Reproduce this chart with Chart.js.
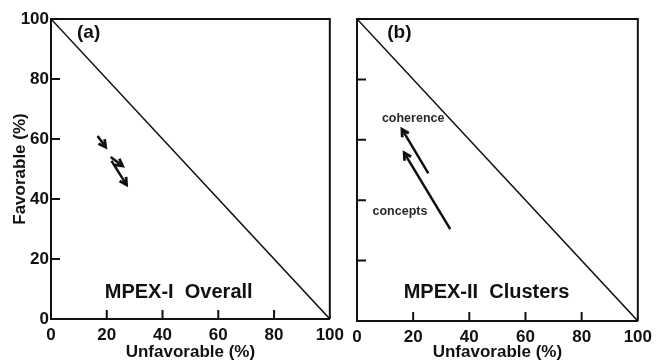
<!DOCTYPE html>
<html>
<head>
<meta charset="utf-8">
<script src="https://cdn.jsdelivr.net/npm/chart.js@4.4.1/dist/chart.umd.min.js"></script>
<style>
  html, body { margin: 0; padding: 0; background: #fff; }
  #wrap { position: relative; width: 658px; height: 362px; overflow: hidden; background: #fff; }
  canvas { position: absolute; top: 0; }
  #chartA { left: 0; }
  #chartB { left: 330px; }
</style>
</head>
<body>
<div id="wrap">
  <canvas id="chartA" width="350" height="362"></canvas>
  <canvas id="chartB" width="328" height="362"></canvas>
</div>
<script>
const axisTicks = [0, 20, 40, 60, 80, 100];
const diagonalX = [0, 100];
const diagonalY = [100, 0];

// MPEX-I overall shifts (unfavorable %, favorable %), pre -> post
const overallFromX = [16.7, 21.4, 21.7];
const overallFromY = [61.0, 54.0, 52.7];
const overallToX = [19.6, 25.7, 27.1];
const overallToY = [57.3, 51.0, 44.7];

// MPEX-II cluster shifts
const clusterNames = ['coherence', 'concepts'];
const clusterFromX = [25.4, 33.2];
const clusterFromY = [48.9, 30.4];
const clusterToX = [16.0, 16.8];
const clusterToY = [63.5, 55.7];

const ink = '#111';
const family = '"Liberation Sans", Arial, sans-serif';
const tickFont = { family: family, size: 17, weight: 'bold' };
const titleFont = { family: family, size: 17, weight: 'bold', lineHeight: 1 };

function diagonalSet() {
    return {
        data: diagonalX.map((x, i) => ({ x: x, y: diagonalY[i] })),
        borderColor: ink,
        borderWidth: 1.5,
        pointRadius: 0,
        fill: false
    };
}

function arrowSets(fx, fy, tx, ty) {
    return fx.map((x, i) => ({
        data: [{ x: x, y: fy[i] }, { x: tx[i], y: ty[i] }],
        borderColor: ink,
        borderWidth: 2.5,
        pointRadius: 0,
        fill: false,
        arrow: 8
    }));
}

const frame = {
    id: 'frame',
    beforeDatasetsDraw(chart) {
        const ctx = chart.ctx;
        const a = chart.chartArea;
        const x = chart.scales.x, y = chart.scales.y;
        ctx.save();
        ctx.strokeStyle = ink;
        ctx.lineWidth = 2;
        ctx.beginPath();
        ctx.moveTo(a.left, a.top);
        ctx.lineTo(a.right, a.top);
        ctx.lineTo(a.right, a.bottom);
        axisTicks.forEach(v => {
            const px = x.getPixelForValue(v);
            const py = y.getPixelForValue(v);
            ctx.moveTo(px, a.bottom);
            ctx.lineTo(px, a.bottom - 9);
            ctx.moveTo(a.left, py);
            ctx.lineTo(a.left + 9, py);
        });
        ctx.stroke();
        ctx.restore();
    }
};

const arrowHeads = {
    id: 'arrowHeads',
    afterDatasetsDraw(chart) {
        const ctx = chart.ctx;
        chart.data.datasets.forEach((ds, i) => {
            if (!ds.arrow) return;
            const pts = chart.getDatasetMeta(i).data;
            const tip = pts[pts.length - 1];
            const tail = pts[pts.length - 2];
            const ang = Math.atan2(tip.y - tail.y, tip.x - tail.x);
            const spread = 0.5;
            ctx.save();
            ctx.strokeStyle = ds.borderColor;
            ctx.lineWidth = 2.8;
            ctx.lineJoin = 'miter';
            ctx.beginPath();
            ctx.moveTo(tip.x - ds.arrow * Math.cos(ang - spread), tip.y - ds.arrow * Math.sin(ang - spread));
            ctx.lineTo(tip.x, tip.y);
            ctx.lineTo(tip.x - ds.arrow * Math.cos(ang + spread), tip.y - ds.arrow * Math.sin(ang + spread));
            ctx.stroke();
            ctx.restore();
        });
    }
};

const notes = {
    id: 'notes',
    afterDraw(chart, args, opts) {
        const ctx = chart.ctx;
        const x = chart.scales.x, y = chart.scales.y;
        ctx.save();
        ctx.textAlign = 'center';
        ctx.textBaseline = 'middle';
        (opts.items || []).forEach(n => {
            ctx.font = n.font;
            ctx.fillStyle = n.color || ink;
            ctx.fillText(n.text, x.getPixelForValue(n.x), y.getPixelForValue(n.y));
        });
        ctx.restore();
    }
};

function makeOptions(showY, yWidth, xHeight, pad, items) {
    return {
        responsive: false,
        animation: false,
        layout: { padding: pad },
        plugins: {
            legend: { display: false },
            tooltip: { enabled: false },
            notes: { items: items }
        },
        scales: {
            x: {
                type: 'linear',
                min: 0,
                max: 100,
                afterBuildTicks: s => { s.ticks = axisTicks.map(v => ({ value: v })); },
                grid: { display: false, drawTicks: false },
                border: { display: true, color: ink, width: 2 },
                ticks: { color: ink, font: tickFont, padding: 6, maxRotation: 0, autoSkip: false },
                title: { display: true, text: 'Unfavorable (%)', color: ink, font: titleFont, padding: { top: 0, bottom: 1 } },
                afterFit: s => { s.height = xHeight; }
            },
            y: {
                type: 'linear',
                min: 0,
                max: 100,
                afterBuildTicks: s => { s.ticks = axisTicks.map(v => ({ value: v })); },
                grid: { display: false, drawTicks: false },
                border: { display: true, color: ink, width: 2 },
                ticks: { display: showY, color: ink, font: tickFont, padding: 2 },
                title: { display: showY, text: 'Favorable (%)', color: ink, font: titleFont, padding: { top: 12, bottom: 0 } },
                afterFit: s => { s.width = yWidth; }
            }
        }
    };
}

const bigFont = 'bold 20px ' + family;
const panelFont = 'bold 19px ' + family;
const smallFont = 'bold 12.5px ' + family;

new Chart(document.getElementById('chartA'), {
    type: 'line',
    data: { datasets: [diagonalSet()].concat(arrowSets(overallFromX, overallFromY, overallToX, overallToY)) },
    options: makeOptions(true, 51, 43, { left: 0, top: 19, right: 19, bottom: 0 }, [
        { text: '(a)', x: 13.5, y: 95.3, font: panelFont },
        { text: 'MPEX-I  Overall', x: 45.8, y: 9, font: bigFont }
    ]),
    plugins: [frame, arrowHeads, notes]
});

new Chart(document.getElementById('chartB'), {
    type: 'line',
    data: { datasets: [diagonalSet()].concat(arrowSets(clusterFromX, clusterFromY, clusterToX, clusterToY)) },
    options: makeOptions(false, 27, 41, { left: 0, top: 19, right: 16, bottom: 0 }, [
        { text: '(b)', x: 15.1, y: 95.4, font: panelFont },
        { text: 'MPEX-II  Clusters', x: 46.1, y: 9.3, font: bigFont },
        { text: clusterNames[0], x: 20.0, y: 66.9, font: smallFont, color: '#2a2a2a' },
        { text: clusterNames[1], x: 15.3, y: 36.4, font: smallFont, color: '#2a2a2a' }
    ]),
    plugins: [frame, arrowHeads, notes]
});
</script>
</body>
</html>
